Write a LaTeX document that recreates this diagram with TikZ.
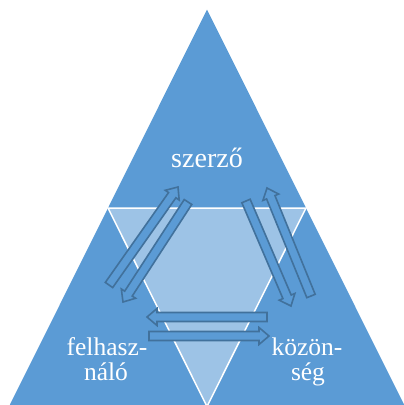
\documentclass[tikz,border=0pt]{standalone}
\usepackage{fontspec}
\setmainfont{Liberation Serif}
\usetikzlibrary{calc}
\definecolor{mainblue}{HTML}{5B9BD5}
\definecolor{lightblue}{HTML}{9DC3E6}
\definecolor{darkblue}{HTML}{41719C}
\tikzset{
  outer/.style={fill=mainblue, draw=none},
  inner/.style={fill=lightblue, draw=white, line width=1.5pt, line join=miter},
  blockarrowstyle/.style={fill=mainblue, draw=darkblue, line width=1.6pt, line join=miter},
  lbl/.style={text=white, inner sep=0pt, anchor=base, align=center},
}
\newcommand\blockarr[2]{%
  \coordinate (tmph) at ($(#2)!10pt!(#1)$);
  \draw[blockarrowstyle]
    ($(#1)!4.5pt!90:(#2)$) -- ($(tmph)!4.5pt!90:(#2)$) -- ($(tmph)!8.5pt!90:(#2)$)
    -- (#2) -- ($(tmph)!8.5pt!-90:(#2)$) -- ($(tmph)!4.5pt!-90:(#2)$)
    -- ($(#1)!4.5pt!-90:(#2)$) -- cycle;}
\begin{document}
\begin{tikzpicture}[x=1pt,y=-1pt]
\useasboundingbox (0,0) rectangle (404,405);
\clip (0,0) rectangle (404,405);
% big triangle
\coordinate (apex) at (207,9.5);
\coordinate (bl) at (9,406.5);
\coordinate (br) at (405,406.5);
\coordinate (ml) at (108,208);
\coordinate (mr) at (306,208);
\coordinate (mb) at (207,406.5);
\fill[outer] (apex) -- (bl) -- (br) -- cycle;
\draw[inner] (ml) -- (mr) -- (mb) -- cycle;
% arrows
\coordinate (As) at (109,285); \coordinate (Ae) at (178,187);
\coordinate (Bs) at (188,202); \coordinate (Be) at (123,302);
\coordinate (Cs) at (246,201); \coordinate (Ce) at (291,306);
\coordinate (Ds) at (311,296); \coordinate (De) at (267,188);
\coordinate (Es) at (267,317); \coordinate (Ee) at (147,317);
\coordinate (Fs) at (149,336); \coordinate (Fe) at (269,336);
\blockarr{As}{Ae}
\blockarr{Bs}{Be}
\blockarr{Cs}{Ce}
\blockarr{Ds}{De}
\blockarr{Es}{Ee}
\blockarr{Fs}{Fe}
% labels
\node[lbl, font=\fontsize{28}{28}\selectfont] (szerzo) at (207,167) {szerző};
\node[lbl, font=\fontsize{25.5}{25}\selectfont] (felh1) at (107,355) {felhasz-};
\node[lbl, font=\fontsize{25.5}{25}\selectfont] (felh2) at (106,380) {náló};
\node[lbl, font=\fontsize{25.5}{25}\selectfont] (koz1) at (307,355) {közön-};
\node[lbl, font=\fontsize{25.5}{25}\selectfont] (koz2) at (308,380) {ség};
\end{tikzpicture}
\end{document}
